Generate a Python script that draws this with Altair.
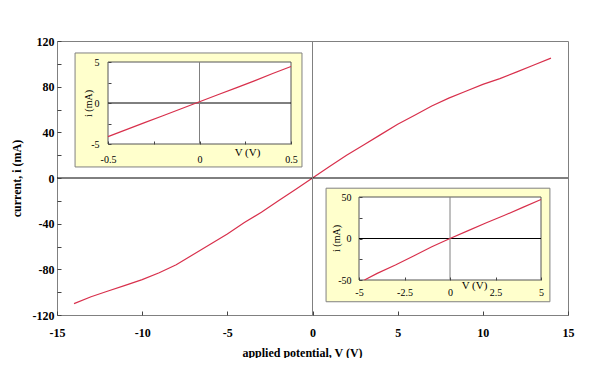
import altair as alt
import pandas as pd

# ---- data ----
main_v = [-14, -13, -12, -11, -10, -9, -8, -7, -6, -5, -4, -3, -2, -1, 0,
          1, 2, 3, 4, 5, 6, 7, 8, 9, 10, 11, 12, 13, 14]
main_i = [-110, -104, -99, -94, -89, -83, -76, -67, -58, -49, -39, -30, -20, -10, 0,
          10, 20, 29, 38, 47, 55, 63, 70, 76, 82, 87, 93, 99, 105]

in1_v = [-0.5, -0.4, -0.3, -0.2, -0.1, 0.0, 0.1, 0.2, 0.3, 0.4, 0.5]
in1_i = [-4.1, -3.25, -2.4, -1.55, -0.7, 0.15, 1.0, 1.85, 2.7, 3.6, 4.45]

in2_v = [-4.7, -4, -3, -2, -1, 0, 1, 2, 3, 4, 5]
in2_i = [-50, -42, -32, -21, -10, 0, 9.5, 19, 28, 37.5, 47]

main_xticks = [-15, -10, -5, 0, 5, 10, 15]
main_yticks = [-120, -100, -80, -60, -40, -20, 0, 20, 40, 60, 80, 100, 120]
in1_xticks = [-0.5, -0.25, 0, 0.25, 0.5]
in1_yticks = [-5, -2.5, 0, 2.5, 5]
in2_xticks = [-5, -2.5, 0, 2.5, 5]
in2_yticks = [-50, -25, 0, 25, 50]

FONT = "Liberation Serif"
RED = "#D8304C"
YELLOW = "#FFFFCC"

one = pd.DataFrame({"k": [0]})


def ax(**kw):
    base = dict(domain=False, grid=False, labelFont=FONT, titleFont=FONT,
                labelColor="black", titleColor="black", tickColor="#444",
                labelFlush=False, labelOverlap=False, zindex=2)
    base.update(kw)
    return alt.Axis(**base)


def lab(step):
    return f"abs(datum.value) % {step} == 0 ? '' + datum.value : ''"


# ---- main plot ----
msx = alt.Scale(domain=[-15, 15], nice=False, zero=False)
msy = alt.Scale(domain=[-120, 120], nice=False, zero=False)
main_df = pd.DataFrame({"V": main_v, "i": main_i})

main_xaxis = ax(
    values=main_xticks, labelExpr="'' + datum.value", orient="bottom",
    offset=-4, tickSize=4, labelPadding=12, labelFontSize=12,
    labelFontWeight="bold", title="applied potential, V (V)",
    titleFontSize=12, titleFontWeight="bold", titleX=245, titleY=41,
    titleBaseline="middle")
main_yaxis = ax(
    values=main_yticks, labelExpr=lab(40), orient="left",
    offset=-4, tickSize=4, labelPadding=3, labelFontSize=12,
    labelFontWeight="bold", title="current, i (mA)",
    titleFontSize=12, titleFontWeight="bold", titleX=-45, titleY=137,
    titleBaseline="middle", titleAngle=270)

main_line = alt.Chart(main_df).mark_line(color=RED, strokeWidth=1.2).encode(
    x=alt.X("V:Q", scale=msx, axis=main_xaxis),
    y=alt.Y("i:Q", scale=msy, axis=main_yaxis),
)
main_h0 = alt.Chart(one).mark_rule(color="black", strokeWidth=1).encode(
    y=alt.Y(datum=0, scale=msy, axis=main_yaxis))
main_v0 = alt.Chart(one).mark_rule(color="#808080", strokeWidth=1).encode(
    x=alt.X(datum=0, scale=msx, axis=main_xaxis))
main = alt.layer(main_line, main_h0, main_v0)


def inset(v, i, xdom, ydom, xrng, yrng, box, xticks, yticks, xlab, ylab,
          xoff, yoff, xlp, ylp, xtitle, ytitle):
    sx = alt.Scale(domain=xdom, range=xrng, nice=False, zero=False)
    sy = alt.Scale(domain=ydom, range=yrng, nice=False, zero=False)
    xa = ax(values=xticks, labelExpr=xlab, orient="bottom", offset=xoff,
            tickSize=3, labelPadding=xlp, labelFontSize=10,
            title="V (V)", titleFontSize=11, titleFontWeight="normal",
            titleX=xtitle[0], titleY=xtitle[1], titleBaseline="middle")
    ya = ax(values=yticks, labelExpr=ylab, orient="left", offset=yoff,
            tickSize=3, labelPadding=ylp, labelFontSize=10,
            title="i (mA)", titleFontSize=10, titleFontWeight="normal",
            titleX=ytitle[0], titleY=ytitle[1], titleBaseline="middle",
            titleAngle=270)
    df = pd.DataFrame({"V": v, "i": i})
    bg = alt.Chart(one).mark_rect(fill=YELLOW, stroke="#808080", strokeWidth=1).encode(
        x=alt.X(datum=box[0], scale=sx, axis=xa), x2=alt.datum(box[1]),
        y=alt.Y(datum=box[2], scale=sy, axis=ya), y2=alt.datum(box[3]))
    frame = alt.Chart(one).mark_rect(fill="white", stroke="#555555", strokeWidth=1).encode(
        x=alt.X(datum=xdom[0], scale=sx, axis=xa), x2=alt.datum(xdom[1]),
        y=alt.Y(datum=ydom[0], scale=sy, axis=ya), y2=alt.datum(ydom[1]))
    h0 = alt.Chart(one).mark_rule(color="black", strokeWidth=1).encode(
        x=alt.X(datum=xdom[0], scale=sx, axis=xa), x2=alt.datum(xdom[1]),
        y=alt.Y(datum=0, scale=sy, axis=ya))
    v0 = alt.Chart(one).mark_rule(color="#808080", strokeWidth=1).encode(
        x=alt.X(datum=0, scale=sx, axis=xa),
        y=alt.Y(datum=ydom[0], scale=sy, axis=ya), y2=alt.datum(ydom[1]))
    line = alt.Chart(df).mark_line(color=RED, strokeWidth=1.2).encode(
        x=alt.X("V:Q", scale=sx, axis=xa),
        y=alt.Y("i:Q", scale=sy, axis=ya),
    )
    return alt.layer(bg, frame, h0, v0, line)


ins1 = inset(in1_v, in1_i, [-0.5, 0.5], [-5, 5], [51, 234], [103, 21],
             [-0.68, 0.56, -7.8, 6.1], in1_xticks, in1_yticks,
             lab(0.5), lab(5), -174, -54, 10, 9, (190, 11), (-23, 62))
ins2 = inset(in2_v, in2_i, [-5, 5], [-50, 50], [302, 484], [239, 156],
             [-6.81, 5.49, -76.2, 60.6], in2_xticks, in2_yticks,
             lab(2.5), lab(50), -38, -305, 7, 8, (417, 8), (-26, 197))

chart = alt.layer(main, ins1, ins2).resolve_scale(
    x="independent", y="independent"
).properties(
    width=511, height=274,
    padding={"left": 49, "top": 33, "right": 20, "bottom": 43},
    autosize=alt.AutoSizeParams(type="none"),
).configure_view(stroke="#808080", strokeWidth=1)

chart.save("out.html", embed_options={"renderer": "svg", "actions": False})
